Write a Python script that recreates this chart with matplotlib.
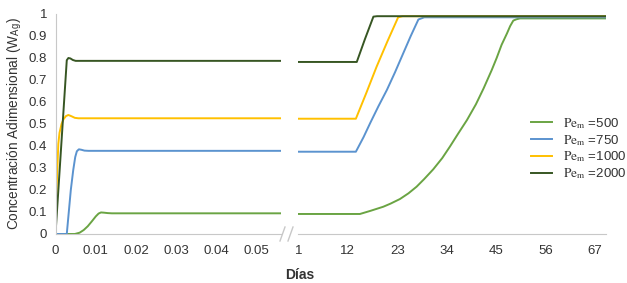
import matplotlib
matplotlib.use('Agg')
import matplotlib.pyplot as plt
from matplotlib.lines import Line2D

plt.rcParams['font.family'] = ['Liberation Sans', 'DejaVu Sans']
plt.rcParams['mathtext.fontset'] = 'stix'

# series labels / colours
labels = [r'$\mathrm{Pe_m}$ =500', r'$\mathrm{Pe_m}$ =750',
          r'$\mathrm{Pe_m}$ =1000', r'$\mathrm{Pe_m}$ =2000']
colors = ['#6aa443', '#5b93cf', '#ffc000', '#375623']

# left panel: early times (dias 0 - 0.056)
t500 = [0, 0.0048, 0.0060, 0.0070, 0.0080, 0.0090, 0.0100, 0.0107, 0.0113,
        0.0120, 0.0130, 0.0140, 0.056]
c500 = [0, 0, 0.006, 0.018, 0.035, 0.057, 0.080, 0.093, 0.098,
        0.097, 0.095, 0.094, 0.094]
t750 = [0, 0.0028, 0.0033, 0.0038, 0.0044, 0.0049, 0.0053, 0.0058, 0.0064,
        0.0072, 0.0082, 0.056]
c750 = [0, 0, 0.10, 0.20, 0.29, 0.35, 0.376, 0.385, 0.383, 0.379, 0.378, 0.378]
t1000 = [0, 0.0003, 0.0007, 0.0010, 0.0015, 0.0020, 0.0026, 0.0032, 0.0040,
         0.0048, 0.0057, 0.056]
c1000 = [0, 0.22, 0.41, 0.46, 0.50, 0.522, 0.536, 0.541, 0.535, 0.528, 0.526, 0.526]
t2000 = [0, 0.0028, 0.0032, 0.0037, 0.0043, 0.0050, 0.056]
c2000 = [0, 0.79, 0.80, 0.798, 0.791, 0.787, 0.787]

# right panel: long times (dias 1 - 69)
d500 = [1, 14.7, 17.0, 19.9, 21.5, 23.6, 25.5, 27.3, 29.0, 31.0, 33.0, 34.7,
        36.5, 38.5, 40.5, 42.2, 44.0, 45.1, 46.2, 47.4, 48.1, 48.8, 49.5, 50.3, 69.3]
v500 = [0.091, 0.091, 0.105, 0.124, 0.138, 0.159, 0.185, 0.215, 0.250, 0.294,
        0.345, 0.397, 0.455, 0.518, 0.590, 0.662, 0.745, 0.800, 0.860, 0.912,
        0.945, 0.970, 0.976, 0.980, 0.980]
d750 = [1, 13.8, 15.5, 17.0, 18.8, 20.7, 22.5, 24.3, 26.0, 27.7, 29.0, 69.3]
v750 = [0.374, 0.374, 0.44, 0.505, 0.58, 0.655, 0.735, 0.82, 0.90, 0.975, 0.985, 0.985]
d1000 = [1, 13.8, 16.1, 18.4, 20.8, 23.2, 24.2, 69.3]
v1000 = [0.524, 0.524, 0.64, 0.76, 0.875, 0.985, 0.99, 0.99]
d2000 = [1, 14.0, 15.8, 17.7, 18.5, 69.3]
v2000 = [0.782, 0.782, 0.885, 0.988, 0.99, 0.99]

left_data = [(t500, c500), (t750, c750), (t1000, c1000), (t2000, c2000)]
right_data = [(d500, v500), (d750, v750), (d1000, v1000), (d2000, v2000)]

left_ticks = [0, 0.01, 0.02, 0.03, 0.04, 0.05]
left_ticklabels = ['0', '0.01', '0.02', '0.03', '0.04', '0.05']
right_ticks = [1, 12, 23, 34, 45, 56, 67]
y_ticks = [0, 0.1, 0.2, 0.3, 0.4, 0.5, 0.6, 0.7, 0.8, 0.9, 1]
y_ticklabels = ['0', '0.1', '0.2', '0.3', '0.4', '0.5', '0.6', '0.7', '0.8', '0.9', '1']

W, H = 627, 283
fig = plt.figure(figsize=(W / 100, H / 100), dpi=100)
ax1 = fig.add_axes([55.5 / W, 49 / H, (281 - 55.5) / W, 220 / H])
ax2 = fig.add_axes([298.3 / W, 49 / H, (605.5 - 298.3) / W, 220 / H])

txt = '#333333'
axc = '#c8c8c8'
lw = 1.4

for (x, y), c in zip(left_data, colors):
    ax1.plot(x, y, color=c, lw=lw, solid_joinstyle='round')
for (x, y), c, lab in zip(right_data, colors, labels):
    ax2.plot(x, y, color=c, lw=lw, label=lab, solid_joinstyle='round')

ax1.set_xlim(0, 0.056)
ax2.set_xlim(1, 69.3)
for ax in (ax1, ax2):
    ax.set_ylim(0, 1)
    for s in ['top', 'right']:
        ax.spines[s].set_visible(False)
    ax.spines['bottom'].set_color(axc)
    ax.spines['bottom'].set_zorder(0)
    ax.tick_params(length=0, labelsize=9.5, colors=txt)
    ax.tick_params(axis='x', pad=8)
    ax.tick_params(axis='y', pad=6)
    ax.set_facecolor('none')

ax1.spines['left'].set_color(axc)
ax2.spines['left'].set_visible(False)
ax1.set_xticks(left_ticks)
ax1.set_xticklabels(left_ticklabels)
ax1.set_yticks(y_ticks)
ax1.set_yticklabels(y_ticklabels)
ax2.set_xticks(right_ticks)
ax2.set_yticks([])

ax1.set_ylabel(r'Concentración Adimensional (W$_{\mathregular{Ag}}$)', fontsize=9.8,
               color=txt, labelpad=3)
fig.text(300 / W, 1 - 275 / H, 'Días', fontsize=10, fontweight='bold',
         color=txt, ha='center', va='center')

# axis break marks
for x0 in (280, 288):
    fig.add_artist(Line2D([x0 / W, (x0 + 5) / W], [1 - 241 / H, 1 - 227 / H],
                          color=axc, lw=1))

leg = ax2.legend(loc='upper left', bbox_to_anchor=(531 / W, 1 - 116 / H),
                 bbox_transform=fig.transFigure, frameon=False, fontsize=9.5,
                 handlelength=1.6, handletextpad=0.85, labelspacing=0.15,
                 borderpad=0, borderaxespad=0)
for t in leg.get_texts():
    t.set_color(txt)

fig.savefig('out.png', dpi=100)
